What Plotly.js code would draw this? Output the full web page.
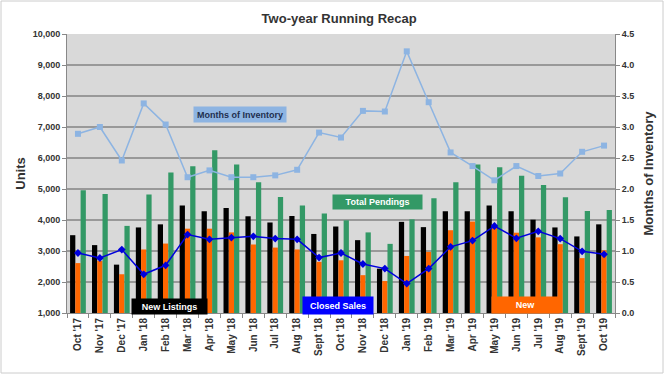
<!DOCTYPE html>
<html>
<head>
<meta charset="utf-8">
<script src="https://cdn.plot.ly/plotly-3.0.1.min.js"></script>
<style>
html,body{margin:0;padding:0;background:#fff;}
#chart{width:665px;height:375px;}
</style>
</head>
<body>
<div id="chart"></div>
<script>
const months = ["Oct '17","Nov '17","Dec '17","Jan '18","Feb '18","Mar '18","Apr '18","May '18","Jun '18","Jul '18","Aug '18","Sept '18","Oct '18","Nov '18","Dec '18","Jan '19","Feb '19","Mar '19","Apr '19","May '19","Jun '19","Jul '19","Aug '19","Sept '19","Oct '19"];
const newListings = [3510,3190,2560,3760,3860,4470,4280,4390,4120,3920,4130,3550,3790,3350,2430,3940,3770,4280,4280,4470,4280,4010,3760,3470,3860];
const newPendings = [2610,2680,2250,3050,3240,3720,3720,3600,3210,3110,3050,2650,2700,2220,2030,2840,2970,3670,3950,3740,3590,3440,3220,2770,3020];
const totalPendings = [4960,4840,3810,4820,5530,5730,6250,5790,5220,4740,4470,4210,3990,3600,3230,4020,4700,5220,5790,5700,5430,5130,4730,4290,4320];
const closedSales = [2935,2774,3045,2248,2539,3529,3377,3432,3474,3400,3377,2787,2935,2581,2432,1948,2432,3135,3335,3806,3410,3635,3400,2990,2894];
const monthsOfInventory = [2.89,3.00,2.46,3.38,3.04,2.19,2.30,2.19,2.19,2.22,2.31,2.91,2.83,3.26,3.25,4.22,3.40,2.59,2.37,2.14,2.37,2.21,2.25,2.60,2.70];

const F = "Arial, 'Liberation Sans', sans-serif";

const traces = [
  {type:'bar', name:'New Listings', x:months, y:newListings, marker:{color:'#000000'}},
  {type:'bar', name:'New Pendings', x:months, y:newPendings, marker:{color:'#ff6600'}},
  {type:'bar', name:'Total Pendings', x:months, y:totalPendings, marker:{color:'#339966'}},
  {type:'scatter', mode:'lines+markers', name:'Closed Sales', x:months, y:closedSales,
   line:{color:'#0000dd', width:1.5}, marker:{color:'#0000dd', symbol:'diamond', size:6}},
  {type:'scatter', mode:'lines+markers', name:'Months of Inventory', x:months, y:monthsOfInventory, yaxis:'y2',
   line:{color:'#8db4e2', width:1.5}, marker:{color:'#8db4e2', symbol:'square', size:6}}
];

const layout = {
  width:665, height:375,
  margin:{l:67, r:50, t:34, b:62},
  paper_bgcolor:'#ffffff',
  plot_bgcolor:'#d9d9d9',
  showlegend:false,
  barmode:'group',
  bargap:0.28,
  bargroupgap:0,
  font:{family:F, color:'#333333'},
  title:{text:'<b>Two-year Running Recap</b>', font:{size:13, family:F, color:'#333333'}, x:0.51, xanchor:'center', y:0.95, yanchor:'middle'},
  xaxis:{type:'category', tickangle:-90, tickfont:{size:10, family:F, color:'#333333', weight:'bold'},
         showgrid:false, ticks:'outside', ticklen:4, tickcolor:'#888888', tickson:'boundaries',
         showline:true, linecolor:'#888888', linewidth:1, range:[-0.5,24.5]},
  yaxis:{range:[1000,10000], dtick:1000, tickformat:',', tickfont:{size:9, family:F, color:'#333333', weight:'bold'},
         gridcolor:'#999999', gridwidth:1.5, showline:true, linecolor:'#888888', linewidth:1,
         ticks:'outside', ticklen:4, tickcolor:'#888888', zeroline:false,
         title:{text:'Units', font:{size:13, family:F, color:'#333333', weight:'bold'}, standoff:4}},
  yaxis2:{overlaying:'y', side:'right', range:[0,4.5], dtick:0.5, tickformat:'.1f',
          tickfont:{size:9, family:F, color:'#333333', weight:'bold'},
          showgrid:false, showline:true, linecolor:'#888888', linewidth:1,
          ticks:'outside', ticklen:4, tickcolor:'#888888', zeroline:false,
          title:{text:'Months of Inventory', font:{size:13, family:F, color:'#333333', weight:'bold'}, standoff:10}},
  annotations:[
    {xref:'paper', yref:'paper', x:(240-67)/548, y:(313-115)/279, text:'<b>Months of Inventory</b>', showarrow:false,
     font:{size:9, family:F, color:'#1f2f4f'}, bgcolor:'#8db4e2', width:90, height:13, xanchor:'center', yanchor:'middle'},
    {xref:'paper', yref:'paper', x:(377-67)/548, y:(313-202)/279, text:'<b>Total Pendings</b>', showarrow:false,
     font:{size:9, family:F, color:'#ffffff'}, bgcolor:'#339966', width:87, height:12, xanchor:'center', yanchor:'middle'},
    {xref:'paper', yref:'paper', x:(169-67)/548, y:(313-306)/279, text:'<b>New Listings</b>', showarrow:false,
     font:{size:9, family:F, color:'#ffffff'}, bgcolor:'#000000', width:73, height:13, xanchor:'center', yanchor:'middle'},
    {xref:'paper', yref:'paper', x:(338-67)/548, y:(313-305)/279, text:'<b>Closed Sales</b>', showarrow:false,
     font:{size:9, family:F, color:'#ffffff'}, bgcolor:'#0000ff', width:68, height:15, xanchor:'center', yanchor:'middle'},
    {xref:'paper', yref:'paper', x:(525-67)/548, y:(313-305)/279, text:'<b>New</b>', showarrow:false,
     font:{size:9, family:F, color:'#ffffff'}, bgcolor:'#ff6600', width:65, height:14, xanchor:'center', yanchor:'middle'}
  ],
  shapes:[
    {type:'rect', xref:'paper', yref:'paper', x0:(1-67)/548, x1:(663-67)/548, y0:(313-373)/279, y1:(313-1)/279,
     line:{color:'#cccccc', width:1}, fillcolor:'rgba(0,0,0,0)', layer:'above'}
  ]
};

Plotly.newPlot('chart', traces, layout, {displayModeBar:false, staticPlot:true});
</script>
</body>
</html>
